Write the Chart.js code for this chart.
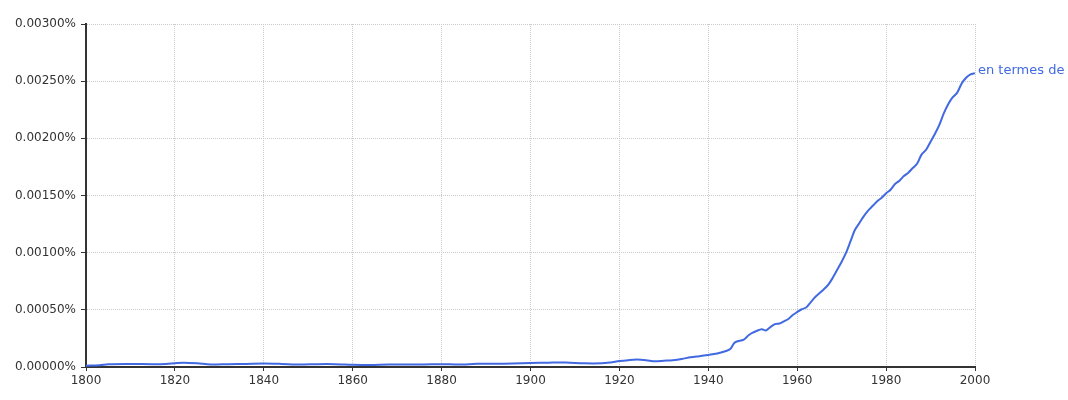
<!DOCTYPE html>
<html><head><meta charset="utf-8">
<script src="https://cdn.jsdelivr.net/npm/chart.js@4"></script>
<style>html,body{margin:0;padding:0;background:#fff}#wrap{width:1068px;height:400px;position:relative}</style>
</head><body><div id="wrap"><canvas id="c" width="1068" height="400"></canvas></div>
<script>
const seriesName = "en termes de";
const years = [1800,1803,1805,1810,1815,1818,1820,1822,1825,1828,1832,1836,1840,1844,1848,1852,1856,1860,1864,1868,1872,1876,1880,1884,1888,1892,1896,1900,1904,1908,1912,1916,1918,1920,1922,1924,1926,1928,1930,1932,1934,1936,1938,1940,1942,1944,1945,1946,1948,1949,1950,1952,1953,1954,1955,1956,1957,1958,1959,1960,1961,1962,1963,1964,1966,1967,1968,1969,1970,1971,1972,1973,1974,1975,1976,1977,1978,1979,1980,1981,1982,1983,1984,1985,1986,1987,1988,1989,1990,1991,1992,1993,1994,1995,1996,1997,1998,1999,2000];
const values = [0.000012,0.000015,0.000025,0.000027,0.000025,0.000027,0.000033,0.000038,0.000033,0.000022,0.000025,0.000027,0.00003,0.000027,0.000022,0.000025,0.000025,0.00002,0.000018,0.000022,0.000022,0.000022,0.000025,0.000022,0.000028,0.000028,0.00003,0.000035,0.000038,0.00004,0.000032,0.000032,0.00004,0.000052,0.00006,0.000065,0.00006,0.00005,0.000055,0.00006,0.00007,0.000085,0.000095,0.000105,0.000118,0.00014,0.00016,0.000215,0.00024,0.000275,0.0003,0.00033,0.00032,0.00035,0.000375,0.00038,0.0004,0.00042,0.000455,0.00048,0.000505,0.00052,0.000565,0.00061,0.00068,0.00072,0.00078,0.00085,0.00092,0.001,0.0011,0.0012,0.00126,0.00132,0.00137,0.00141,0.00145,0.00148,0.00152,0.00155,0.0016,0.00163,0.00167,0.0017,0.00174,0.00178,0.00186,0.0019,0.00197,0.00204,0.00212,0.00222,0.0023,0.00236,0.0024,0.00248,0.00253,0.00256,0.00257];
const lineColor = "rgb(65,105,225)";

const endLabel = {
  id: 'endLabel',
  afterDatasetsDraw(chart) {
    const meta = chart.getDatasetMeta(0);
    const pt = meta.data[meta.data.length - 1];
    const ctx = chart.ctx;
    ctx.save();
    ctx.font = '13px "DejaVu Sans"';
    ctx.fillStyle = lineColor;
    ctx.textBaseline = 'middle';
    ctx.textAlign = 'left';
    ctx.fillText(seriesName, pt.x + 3, pt.y - 3);
    ctx.restore();
  }
};

new Chart(document.getElementById('c'), {
  type: 'line',
  data: {
    datasets: [{
      label: seriesName,
      data: years.map((y, i) => ({x: y, y: values[i]})),
      borderColor: lineColor,
      borderWidth: 2,
      pointRadius: 0,
      tension: 0.3,
      fill: false
    }]
  },
  options: {
    responsive: false,
    animation: false,
    layout: {padding: {top: 24, right: 93, left: 0, bottom: 0}},
    plugins: {legend: {display: false}, tooltip: {enabled: false}},
    scales: {
      x: {
        type: 'linear', min: 1800, max: 2000,
        afterFit(s) { s.height = 33; },
        ticks: {stepSize: 20, color: '#333', font: {family: 'DejaVu Sans', size: 12}, padding: 3, maxRotation: 0, callback: v => String(v)},
        grid: {color: '#cacaca', tickColor: '#333', tickLength: 4, tickBorderDash: []},
        border: {color: '#333', width: 2, dash: [1, 1]}
      },
      y: {
        min: 0, max: 0.003,
        afterFit(s) { s.width = 86; },
        ticks: {stepSize: 0.0005, color: '#333', font: {family: 'DejaVu Sans', size: 12}, padding: 5, callback: v => v.toFixed(5) + '%'},
        grid: {color: '#cacaca', tickColor: '#333', tickLength: 5, tickBorderDash: []},
        border: {color: '#333', width: 2, dash: [1, 1]}
      }
    }
  },
  plugins: [endLabel]
});
</script></body></html>
